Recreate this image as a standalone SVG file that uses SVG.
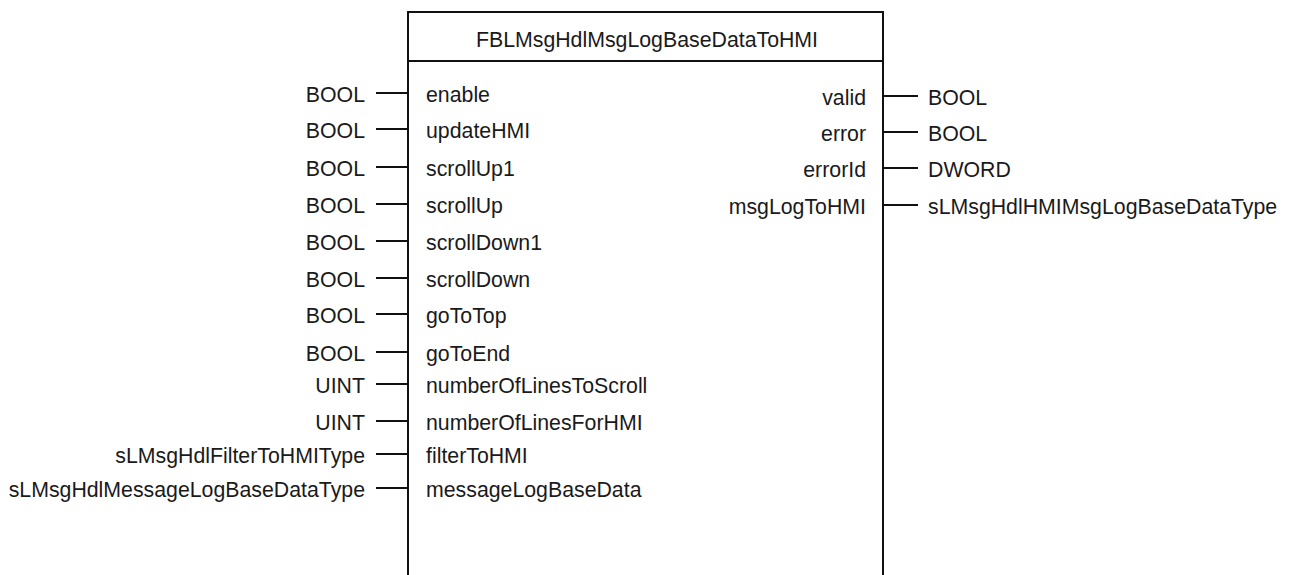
<svg xmlns="http://www.w3.org/2000/svg" width="1290" height="575" viewBox="0 0 1290 575">
  <style>
    .box { fill: none; stroke: #111; stroke-width: 2; }
    .wire { stroke: #111; stroke-width: 2; }
    text { font-family: "Liberation Sans", Arial, sans-serif; font-size: 21.3px; fill: #1a1a1a; }
    .end { text-anchor: end; }
    .mid { text-anchor: middle; }
  </style>
  <rect width="1290" height="575" fill="#fff"/>

  <!-- function block body -->
  <g id="block">
    <path class="box" d="M408,580 V12 H883 V580"/>
    <line class="box" x1="408" y1="61" x2="883" y2="61"/>
    <text class="mid" x="647" y="47">FBLMsgHdlMsgLogBaseDataToHMI</text>
  </g>

  <!-- pin wires -->
  <g id="connectors">
    <line class="wire" x1="376" y1="93" x2="408" y2="93"/>
    <line class="wire" x1="376" y1="129" x2="408" y2="129"/>
    <line class="wire" x1="376" y1="167" x2="408" y2="167"/>
    <line class="wire" x1="376" y1="204" x2="408" y2="204"/>
    <line class="wire" x1="376" y1="241" x2="408" y2="241"/>
    <line class="wire" x1="376" y1="278" x2="408" y2="278"/>
    <line class="wire" x1="376" y1="314" x2="408" y2="314"/>
    <line class="wire" x1="376" y1="352" x2="408" y2="352"/>
    <line class="wire" x1="376" y1="384" x2="408" y2="384"/>
    <line class="wire" x1="376" y1="421" x2="408" y2="421"/>
    <line class="wire" x1="376" y1="454" x2="408" y2="454"/>
    <line class="wire" x1="376" y1="488" x2="408" y2="488"/>
    <line class="wire" x1="883" y1="96" x2="918" y2="96"/>
    <line class="wire" x1="883" y1="132" x2="918" y2="132"/>
    <line class="wire" x1="883" y1="168" x2="918" y2="168"/>
    <line class="wire" x1="883" y1="205" x2="918" y2="205"/>
  </g>

  <!-- inputs -->
  <g id="in-enable"><text class="end" x="365" y="102">BOOL</text><text x="426" y="102">enable</text></g>
  <g id="in-updateHMI"><text class="end" x="365" y="138">BOOL</text><text x="426" y="138">updateHMI</text></g>
  <g id="in-scrollUp1"><text class="end" x="365" y="176">BOOL</text><text x="426" y="176">scrollUp1</text></g>
  <g id="in-scrollUp"><text class="end" x="365" y="213">BOOL</text><text x="426" y="213">scrollUp</text></g>
  <g id="in-scrollDown1"><text class="end" x="365" y="250">BOOL</text><text x="426" y="250">scrollDown1</text></g>
  <g id="in-scrollDown"><text class="end" x="365" y="287">BOOL</text><text x="426" y="287">scrollDown</text></g>
  <g id="in-goToTop"><text class="end" x="365" y="323">BOOL</text><text x="426" y="323">goToTop</text></g>
  <g id="in-goToEnd"><text class="end" x="365" y="361">BOOL</text><text x="426" y="361">goToEnd</text></g>
  <g id="in-numberOfLinesToScroll"><text class="end" x="365" y="393">UINT</text><text x="426" y="393">numberOfLinesToScroll</text></g>
  <g id="in-numberOfLinesForHMI"><text class="end" x="365" y="430">UINT</text><text x="426" y="430">numberOfLinesForHMI</text></g>
  <g id="in-filterToHMI"><text class="end" x="365" y="463">sLMsgHdlFilterToHMIType</text><text x="426" y="463">filterToHMI</text></g>
  <g id="in-messageLogBaseData"><text class="end" x="365" y="497">sLMsgHdlMessageLogBaseDataType</text><text x="426" y="497">messageLogBaseData</text></g>

  <!-- outputs -->
  <g id="out-valid"><text class="end" x="866" y="105">valid</text><text x="928" y="105">BOOL</text></g>
  <g id="out-error"><text class="end" x="866" y="141">error</text><text x="928" y="141">BOOL</text></g>
  <g id="out-errorId"><text class="end" x="866" y="177">errorId</text><text x="928" y="177">DWORD</text></g>
  <g id="out-msgLogToHMI"><text class="end" x="866" y="214">msgLogToHMI</text><text x="928" y="214">sLMsgHdlHMIMsgLogBaseDataType</text></g>
</svg>
